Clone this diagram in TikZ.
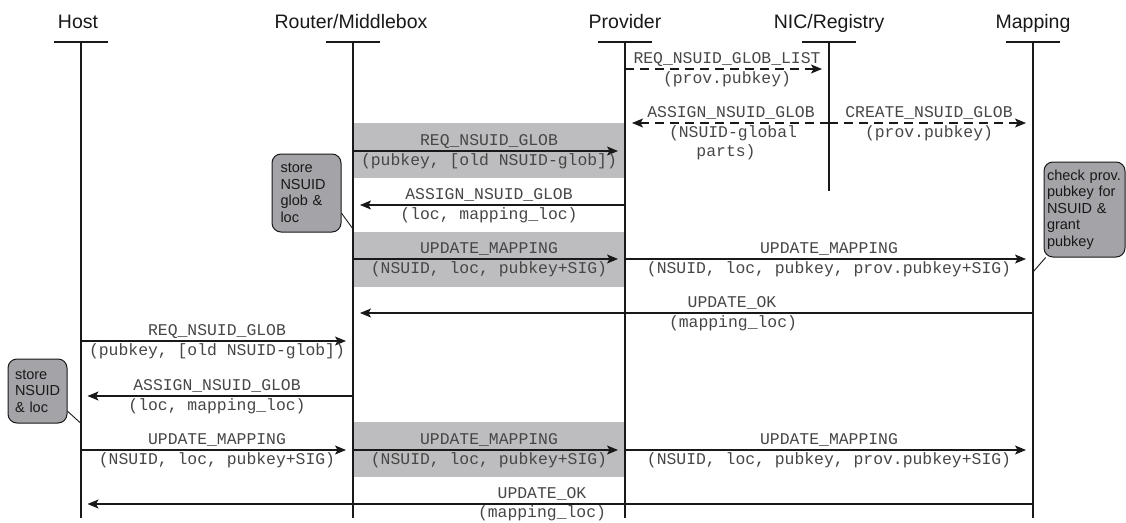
\documentclass[tikz,border=0pt]{standalone}
\usepackage{fontspec}
\setmainfont{Liberation Sans}
\newfontfamily\monof{Liberation Mono}
\usetikzlibrary{arrows.meta}
\definecolor{boxgray}{RGB}{189,189,191}
\definecolor{callgray}{RGB}{163,163,168}
\definecolor{ink}{RGB}{25,25,25}
\definecolor{labink}{RGB}{70,70,70}
\begin{document}
\begin{tikzpicture}[x=1pt,y=-1pt,
  title/.style={font=\fontsize{19.5}{22}\selectfont, anchor=base, inner sep=0pt, text=ink},
  lab/.style={font=\monof\fontsize{16.4}{18.5}\selectfont, anchor=base, inner sep=0pt, text=labink},
  lifebar/.style={line width=2.6pt, draw=ink},
  life/.style={line width=2pt, draw=ink},
  msg/.style={line width=1.1pt, draw=ink, -{Stealth[length=11pt,width=9pt,inset=2.5pt]}, shorten >=7pt},
  dmsg/.style={msg, dash pattern=on 9pt off 6pt},
  hl/.style={fill=boxgray},
  note/.style={draw=ink, line width=1pt, fill=callgray, rounded corners=9pt,
    font=\fontsize{14.5}{16.5}\selectfont, align=left, inner ysep=0pt, text=ink},
  pointer/.style={line width=0.9pt, draw=ink}]
\useasboundingbox (0,0) rectangle (1126,522);

% lifeline heads
\coordinate (H) at (80.5,42);
\coordinate (R) at (353,42);
\coordinate (P) at (625,42);
\coordinate (N) at (829,42);
\coordinate (M) at (1033,42);

\node[title] (tH) at (78,28) {Host};
\node[title] (tR) at (351,28) {Router/Middlebox};
\node[title] (tP) at (625,28) {Provider};
\node[title] (tN) at (829,28) {NIC/Registry};
\node[title] (tM) at (1033,28) {Mapping};

% highlighted bands
\fill[hl] (R |- 0,123) rectangle (P |- 0,178);
\fill[hl] (R |- 0,232) rectangle (P |- 0,287);
\fill[hl] (R |- 0,422) rectangle (P |- 0,477);

% bars and lifelines
\foreach \c in {H,R,P,N,M} {
  \draw[lifebar] ([xshift=-27pt]\c) -- ([xshift=27pt]\c);
}
\draw[life] (H) -- (H |- 0,518);
\draw[life] (R) -- (R |- 0,518);
\draw[life] (P) -- (P |- 0,518);
\draw[life] (N) -- (N |- 0,191);
\draw[life] (M) -- (M |- 0,518);

% dashed messages with the registry
\draw[dmsg] (P |- 0,69) -- (N |- 0,69);
\node[lab] (m1a) at (727,63) {REQ\_NSUID\_GLOB\_LIST};
\node[lab] (m1b) at (727,83) {(prov.pubkey)};

\draw[dmsg] (N |- 0,123) -- (P |- 0,123);
\node[lab] (m2a) at (731,117) {ASSIGN\_NSUID\_GLOB};
\node[lab] (m2b) at (733,137) {(NSUID-global};
\node[lab] (m2c) at (726,156.5) {parts)};

\draw[dmsg] (N |- 0,123) -- (M |- 0,123);
\node[lab] (m3a) at (929,117) {CREATE\_NSUID\_GLOB};
\node[lab] (m3b) at (929,137) {(prov.pubkey)};

% router <-> provider
\draw[msg] (R |- 0,151) -- (P |- 0,151);
\node[lab] (m4a) at (489,145) {REQ\_NSUID\_GLOB};
\node[lab] (m4b) at (489,165) {(pubkey, [old NSUID-glob])};

\draw[msg] (P |- 0,205) -- (R |- 0,205);
\node[lab] (m5a) at (489,199) {ASSIGN\_NSUID\_GLOB};
\node[lab] (m5b) at (489,219) {(loc, mapping\_loc)};

\draw[msg] (R |- 0,259) -- (P |- 0,259);
\node[lab] (m6a) at (489,253) {UPDATE\_MAPPING};
\node[lab] (m6b) at (489,273) {(NSUID, loc, pubkey+SIG)};

\draw[msg] (P |- 0,259) -- (M |- 0,259);
\node[lab] (m7a) at (829,253) {UPDATE\_MAPPING};
\node[lab] (m7b) at (829,273) {(NSUID, loc, pubkey, prov.pubkey+SIG)};

\draw[msg] (M |- 0,313) -- (R |- 0,313);
\node[lab] (m8a) at (732,307) {UPDATE\_OK};
\node[lab] (m8b) at (733,327) {(mapping\_loc)};

% host <-> router
\draw[msg] (H |- 0,341) -- (R |- 0,341);
\node[lab] (m9a) at (217,335) {REQ\_NSUID\_GLOB};
\node[lab] (m9b) at (217,355) {(pubkey, [old NSUID-glob])};

\draw[msg] (R |- 0,396) -- (H |- 0,396);
\node[lab] (m10a) at (217,390) {ASSIGN\_NSUID\_GLOB};
\node[lab] (m10b) at (217,410) {(loc, mapping\_loc)};

\draw[msg] (H |- 0,450) -- (R |- 0,450);
\node[lab] (m11a) at (217,444) {UPDATE\_MAPPING};
\node[lab] (m11b) at (217,464) {(NSUID, loc, pubkey+SIG)};

\draw[msg] (R |- 0,450) -- (P |- 0,450);
\node[lab] (m12a) at (489,444) {UPDATE\_MAPPING};
\node[lab] (m12b) at (489,464) {(NSUID, loc, pubkey+SIG)};

\draw[msg] (P |- 0,450) -- (M |- 0,450);
\node[lab] (m13a) at (829,444) {UPDATE\_MAPPING};
\node[lab] (m13b) at (829,464) {(NSUID, loc, pubkey, prov.pubkey+SIG)};

\draw[msg] (M |- 0,504) -- (H |- 0,504);
\node[lab] (m14a) at (542,498) {UPDATE\_OK};
\node[lab] (m14b) at (542,517) {(mapping\_loc)};

% callouts
\node[note, minimum width=69pt, minimum height=78pt, inner xsep=8.5pt, text width=52pt] (c1) at (306.5,193) {store\\NSUID\\glob \&\\loc};
\node[note, minimum width=81pt, minimum height=95pt, inner xsep=3pt, text width=75pt] (c2) at (1084.5,209.5) {check prov.\\pubkey for\\NSUID \&\\grant\\pubkey};
\node[note, minimum width=59pt, minimum height=64pt, inner xsep=7pt, text width=45pt] (c3) at (37.5,391) {store\\NSUID\\\& loc};

\draw[pointer] (c1.-30) -- (R |- 0,229);
\draw[pointer] (c2.-129) -- (M |- 0,272);
\draw[pointer] (c3.-34) -- (H |- 0,423);
\end{tikzpicture}
\end{document}
